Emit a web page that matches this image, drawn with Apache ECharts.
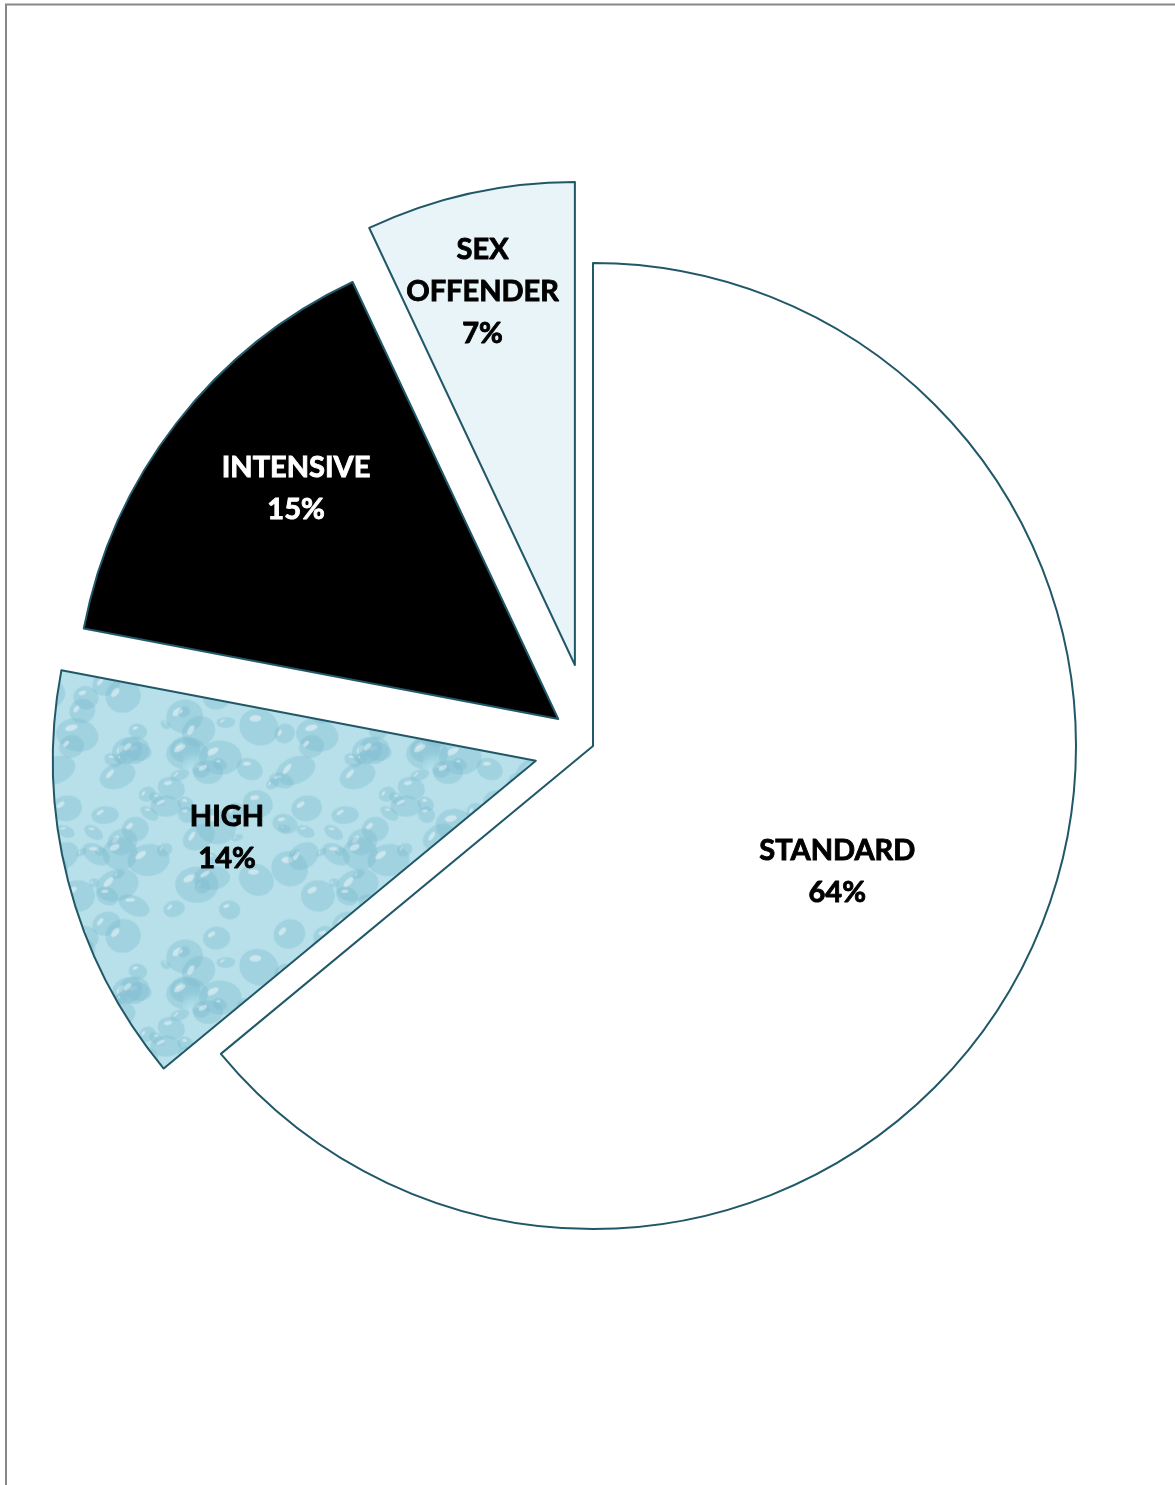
<!DOCTYPE html>
<html>
<head>
<meta charset="utf-8">
<script src="https://cdn.jsdelivr.net/npm/echarts@6/dist/echarts.min.js"></script>
<style>
html,body{margin:0;padding:0;background:#fff;}
#chart{width:1175px;height:1485px;}
</style>
</head>
<body>
<div id="chart"></div>
<script>
// ---- data ----
const categories = ['STANDARD', 'HIGH', 'INTENSIVE', 'SEX\nOFFENDER'];
const shares = [64, 14, 15, 7];

// ---- styles (not data) ----
const BORDER = '#215868';
const explodeOffsets = [0, 59, 44, 83];
const labelShift = [[23, 22], [-72, 16], [-69, -81], [-39, -135]];
const labelColors = ['#000', '#000', '#fff', '#000'];

// water-drop texture for HIGH slice (deterministic)
function makeTexture() {
  const W = 240;
  const c = document.createElement('canvas');
  c.width = W; c.height = W;
  const g = c.getContext('2d');
  g.fillStyle = '#b7e0ea';
  g.fillRect(0, 0, W, W);
  let s = 4242;
  const rnd = () => { s = (s * 1103515245 + 12345) % 2147483648; return s / 2147483648; };
  for (let i = 0; i < 75; i++) {
    const x = rnd() * W, y = rnd() * W;
    const r = 5 + rnd() * 17;
    const ry = r * (0.55 + rnd() * 0.4);
    const rot = (rnd() - 0.5) * 1.2;
    for (const ox of [-W, 0, W]) for (const oy of [-W, 0, W]) {
      const cx = x + ox, cy = y + oy;
      if (cx + r < 0 || cx - r > W || cy + r < 0 || cy - r > W) continue;
      const gr = g.createRadialGradient(cx + r * 0.2, cy + ry * 0.25, r * 0.1, cx, cy, r);
      gr.addColorStop(0, 'rgba(205,238,245,0.55)');
      gr.addColorStop(0.7, 'rgba(140,200,216,0.45)');
      gr.addColorStop(1, 'rgba(120,185,205,0.35)');
      g.save();
      g.translate(cx, cy); g.rotate(rot);
      g.fillStyle = gr;
      g.beginPath();
      g.ellipse(0, 0, r, ry, 0, 0, Math.PI * 2);
      g.fill();
      g.fillStyle = 'rgba(255,255,255,0.45)';
      g.beginPath();
      g.ellipse(-r * 0.35, -ry * 0.35, r * 0.3, ry * 0.18, -0.5, 0, Math.PI * 2);
      g.fill();
      g.restore();
    }
  }
  return c;
}
const fills = ['#ffffff', { image: makeTexture(), repeat: 'repeat' }, '#000000', '#e8f4f8'];

const chart = echarts.init(document.getElementById('chart'), null, { renderer: 'canvas' });

const series = categories.map((_, k) => ({
  type: 'pie',
  center: [593, 746],
  radius: [0, 483],
  startAngle: 90,
  clockwise: true,
  avoidLabelOverlap: false,
  selectedMode: 'multiple',
  selectedOffset: explodeOffsets[k],
  silent: true,
  animation: false,
  emphasis: { disabled: true },
  labelLine: { show: false },
  labelLayout: { dx: labelShift[k][0], dy: labelShift[k][1] },
  select: { itemStyle: { borderColor: BORDER, borderWidth: 2 }, label: { color: labelColors[k] } },
  z: k + 2,
  data: categories.map((name, j) => {
    const own = j === k;
    return {
      name: name,
      value: shares[j],
      selected: own && explodeOffsets[k] > 0,
      itemStyle: own
        ? { color: fills[j], borderColor: BORDER, borderWidth: 2 }
        : { color: 'rgba(0,0,0,0)', borderWidth: 0 },
      label: own
        ? {
            show: true,
            position: 'inside',
            formatter: '{b}\n{d}%',
            color: labelColors[j],
            textBorderColor: labelColors[j],
            textBorderWidth: 0.9,
            fontFamily: 'Lato',
            fontWeight: 'bold',
            fontSize: 29,
            lineHeight: 42,
            align: 'center'
          }
        : { show: false }
    };
  })
}));

chart.setOption({
  backgroundColor: '#ffffff',
  graphic: [
    { type: 'line', shape: { x1: 6, y1: 4, x2: 6, y2: 1485 }, style: { stroke: '#888888', lineWidth: 2 }, silent: true },
    { type: 'line', shape: { x1: 5, y1: 4.5, x2: 1175, y2: 4.5 }, style: { stroke: '#888888', lineWidth: 2 }, silent: true }
  ],
  series: series
});
</script>
</body>
</html>
